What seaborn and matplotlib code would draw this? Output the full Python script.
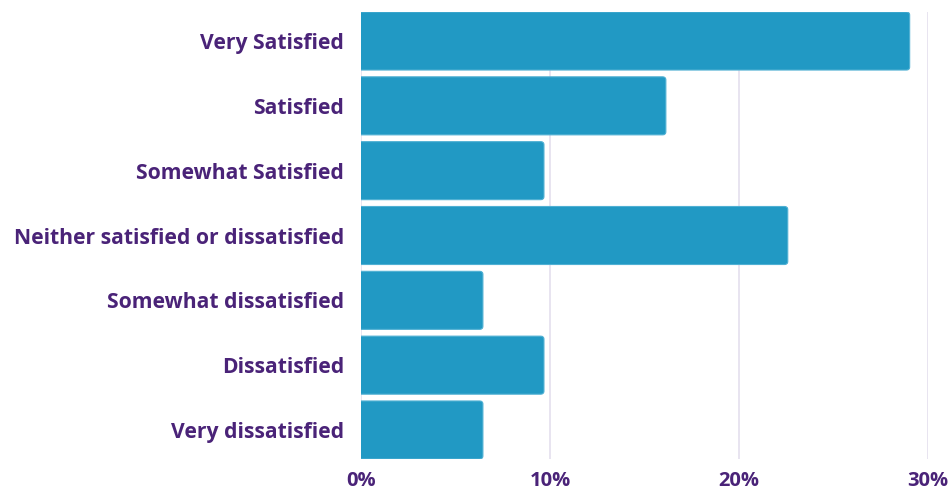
import numpy as np
import pandas as pd
import matplotlib.pyplot as plt
import seaborn as sns
from matplotlib.patches import FancyBboxPatch
from matplotlib.ticker import FuncFormatter

# survey responses (share of respondents, %)
categories = ['Very Satisfied', 'Satisfied', 'Somewhat Satisfied',
              'Neither satisfied or dissatisfied', 'Somewhat dissatisfied',
              'Dissatisfied', 'Very dissatisfied']
shares = [29.03, 16.13, 9.68, 22.58, 6.45, 9.68, 6.45]
x_ticks = [0, 10, 20, 30]

df = pd.DataFrame({'Response': categories, 'Share': shares})

bar_color = '#2199c4'
text_color = '#4a2378'
grid_color = '#e4dfee'

sns.set_theme(style='white')
plt.rcParams['font.family'] = ['Open Sans', 'DejaVu Sans']

fig = plt.figure(figsize=(9.51, 4.93), dpi=100)
ax = fig.add_axes([361 / 951, 1 - 459 / 493, (928 - 361) / 951, (459 - 12) / 493])

sns.barplot(data=df, x='Share', y='Response', color=bar_color,
            saturation=1, width=0.895, ax=ax, zorder=3)

# swap plain bars for ones with slightly rounded right corners
# (box starts left of the axis so the left corners get clipped away)
for p in list(ax.patches):
    x0, y0 = p.get_x(), p.get_y()
    w, h = p.get_width(), p.get_height()
    p.remove()
    rb = FancyBboxPatch((x0 - 1, y0), w + 1, h,
                        boxstyle='round,pad=0,rounding_size=0.17',
                        mutation_aspect=0.28,
                        facecolor=bar_color, edgecolor='#4fb0d3',
                        linewidth=0.8, zorder=3)
    ax.add_patch(rb)

ax.set_xlim(0, 30)
ax.set_ylim(6.4475, -0.4475)
ax.set_xticks(x_ticks)
ax.xaxis.set_major_formatter(FuncFormatter(lambda v, _: f'{v:.0f}%'))
ax.xaxis.grid(True, color=grid_color, linewidth=1.2, zorder=0)
ax.yaxis.grid(False)
for s in ax.spines.values():
    s.set_visible(False)

ax.tick_params(axis='x', length=0, pad=9, labelsize=14.5, labelcolor=text_color)
ax.tick_params(axis='y', length=0, pad=12, labelsize=15.2, labelcolor=text_color)
for lbl in ax.get_xticklabels() + ax.get_yticklabels():
    lbl.set_fontweight('bold')

ax.set_xlabel('')
ax.set_ylabel('')

plt.savefig('out.png', dpi=100)
